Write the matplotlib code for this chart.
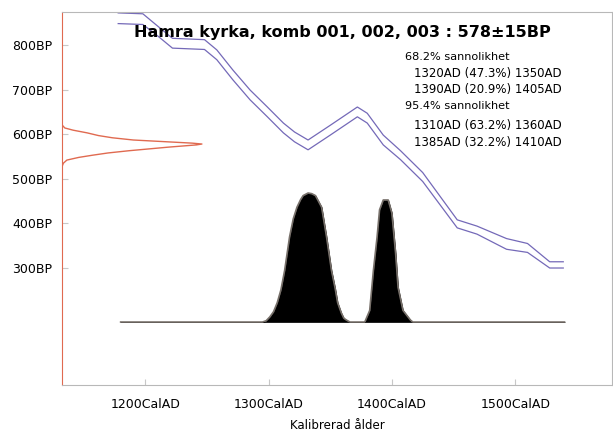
import matplotlib
matplotlib.use("Agg")
from matplotlib import pyplot as plt

# calibration curve (IntCal band)
cal_years = [1178, 1198, 1208, 1222, 1248, 1258, 1271, 1285, 1299, 1312,
             1321, 1332, 1350, 1372, 1380, 1393, 1407, 1425, 1453, 1469,
             1493, 1510, 1528, 1539]
curve_bp = [860, 858, 836, 804, 801, 778, 733, 688, 650, 614,
            594, 576, 609, 650, 636, 587, 553, 504, 399, 385,
            354, 345, 307, 307]
curve_err = [12, 12, 11, 11, 11, 11, 11, 11, 11, 11,
             11, 11, 11, 11, 11, 11, 10, 10, 9, 9,
             12, 10, 7, 7]

# measured date 578±15BP, relative probability on the BP axis
meas_bp = [527, 535, 542, 548, 553, 558, 563, 567, 571, 574,
           576, 578, 580, 583, 587, 592, 597, 603, 609, 614, 621]
meas_prob = [0.0, 0.01, 0.035, 0.12, 0.22, 0.33, 0.48, 0.62, 0.76, 0.88,
             0.96, 1.0, 0.93, 0.75, 0.51, 0.36, 0.26, 0.18, 0.08, 0.02, 0.0]

# calibrated distribution, relative probability
dist_years = [1180, 1295, 1298, 1301, 1304, 1307, 1310, 1313, 1317, 1320,
              1323, 1326, 1328, 1332, 1335, 1338, 1343, 1347, 1351, 1354,
              1356, 1359, 1361, 1363, 1366, 1378, 1382, 1385, 1388, 1390,
              1393, 1397, 1400, 1403, 1405, 1409, 1415, 1417, 1540]
dist_prob = [0, 0, 0.01, 0.04, 0.08, 0.15, 0.25, 0.40, 0.66, 0.80,
             0.89, 0.95, 0.98, 1.0, 0.995, 0.98, 0.89, 0.66, 0.40, 0.26,
             0.15, 0.07, 0.03, 0.016, 0, 0, 0.09, 0.40, 0.66, 0.87,
             0.946, 0.946, 0.845, 0.535, 0.27, 0.09, 0.016, 0, 0]

bp_ticks = [300, 400, 500, 600, 700, 800]
year_ticks = [1200, 1300, 1400, 1500]

title = "Hamra kyrka, komb 001, 002, 003 : 578\u00b115BP"
ranges = [
    ("68.2% sannolikhet", "head"),
    ("1320AD (47.3%) 1350AD", "range"),
    ("1390AD (20.9%) 1405AD", "range"),
    ("95.4% sannolikhet", "head"),
    ("1310AD (63.2%) 1360AD", "range"),
    ("1385AD (32.2%) 1410AD", "range"),
]

fig = plt.figure(figsize=(6.13, 4.38), dpi=100)
ax = fig.add_axes([0.1011, 0.121, 0.8972, 0.8516])
ax.set_xlim(1132.4, 1578.5)
ax.set_ylim(37.7, 874)

for name in ["top", "right", "bottom"]:
    ax.spines[name].set_color("#b8b8b8")
ax.spines["left"].set_color("#e06a50")

upper = [b + e for b, e in zip(curve_bp, curve_err)]
lower = [b - e for b, e in zip(curve_bp, curve_err)]
ax.plot(cal_years, upper, color="#7469b8", lw=0.9)
ax.plot(cal_years, lower, color="#7469b8", lw=0.9)

ax.set_xticks(year_ticks)
ax.set_xticklabels(["{}CalAD".format(y) for y in year_ticks])
ax.set_yticks(bp_ticks)
ax.set_yticklabels(["{}BP".format(b) for b in bp_ticks])
ax.tick_params(axis="both", direction="in", length=4, color="#c8c8c8",
               labelsize=9)
ax.tick_params(axis="x", pad=9)
ax.tick_params(axis="y", pad=7)
ax.set_xlabel("Kalibrerad \u00e5lder", fontsize=8.5, labelpad=6)

# measured date on the y axis
ax_r = ax.twiny()
ax_r.set_xlim(0, 3.93)
ax_r.plot(meas_prob, meas_bp, color="#e06a50", lw=1)
ax_r.axis("off")

# calibrated distribution
ax_d = ax.twinx()
ax_d.set_ylim(-0.488, 2.403)
ax_d.plot(dist_years, dist_prob, color="#77706a", lw=1.2)
ax_d.fill_between(dist_years, 0, dist_prob, color="black", lw=0.5)
ax_d.axis("off")

ax.text(0.509, 0.946, title, transform=ax.transAxes, ha="center",
        va="center", fontsize=11.5, fontweight="bold")
line_y = [0.879, 0.836, 0.791, 0.748, 0.697, 0.651]
for (txt, kind), y in zip(ranges, line_y):
    if kind == "head":
        ax.text(0.6236, y, txt, transform=ax.transAxes, ha="left",
                va="center", fontsize=8.1)
    else:
        ax.text(0.909, y, txt, transform=ax.transAxes, ha="right",
                va="center", fontsize=8.5)

fig.savefig("out.png", dpi=100)
